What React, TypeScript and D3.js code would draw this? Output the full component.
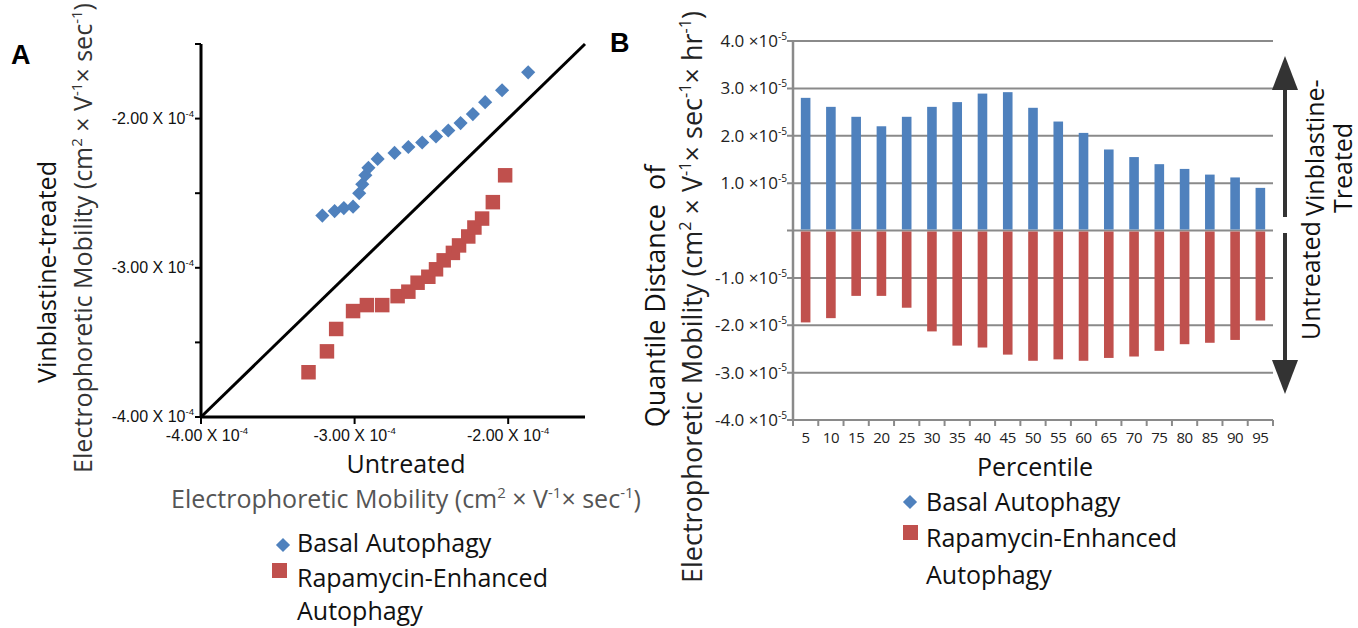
import React, { useRef, useEffect } from "react";
import * as d3 from "d3";

// Panel A: quantile-quantile scatter (units of 1e-4 cm^2 V^-1 s^-1)
const basalUntreated = [-3.21, -3.13, -3.07, -3.01, -2.97, -2.95, -2.93, -2.91, -2.85, -2.74, -2.65, -2.56, -2.47, -2.39, -2.31, -2.23, -2.15, -2.04, -1.87];
const basalVinblastine = [-2.65, -2.62, -2.60, -2.59, -2.50, -2.44, -2.38, -2.33, -2.27, -2.23, -2.19, -2.16, -2.12, -2.08, -2.03, -1.97, -1.89, -1.81, -1.69];
const rapaUntreated = [-3.30, -3.18, -3.12, -3.01, -2.92, -2.82, -2.72, -2.65, -2.59, -2.52, -2.47, -2.42, -2.36, -2.32, -2.26, -2.22, -2.17, -2.10, -2.02];
const rapaVinblastine = [-3.70, -3.56, -3.41, -3.29, -3.25, -3.25, -3.19, -3.16, -3.10, -3.06, -3.01, -2.95, -2.90, -2.85, -2.79, -2.73, -2.67, -2.56, -2.38];
const scatterTicksMajor = [-4, -3, -2];
const scatterTicksY = [-4, -3.5, -3, -2.5, -2, -1.5];

// Panel B: quantile distance per percentile (units of 1e-5)
const percentiles = [5, 10, 15, 20, 25, 30, 35, 40, 45, 50, 55, 60, 65, 70, 75, 80, 85, 90, 95];
const basalDistance = [2.80, 2.61, 2.40, 2.20, 2.40, 2.61, 2.71, 2.89, 2.92, 2.59, 2.30, 2.06, 1.71, 1.55, 1.40, 1.30, 1.18, 1.12, 0.90];
const rapaDistance = [-1.94, -1.85, -1.38, -1.38, -1.63, -2.13, -2.43, -2.47, -2.62, -2.75, -2.72, -2.75, -2.69, -2.66, -2.54, -2.40, -2.37, -2.31, -1.90];
const barTicks = [-4, -3, -2, -1, 0, 1, 2, 3, 4];

const BLUE = "#4F81BD";
const RED = "#C0504D";
const FONT = "'Open Sans', sans-serif";

type Part = { t: string; sup?: boolean };

// append text made of normal + superscript pieces
function rich(sel: d3.Selection<SVGTextElement, unknown, null, undefined>, parts: Part[], size: number) {
  const shift = size * 0.42;
  let up = false;
  parts.forEach((p) => {
    const ts = sel.append("tspan").text(p.t);
    if (p.sup && !up) {
      ts.attr("dy", -shift).attr("font-size", size * 0.6);
      up = true;
    } else if (p.sup) {
      ts.attr("font-size", size * 0.6);
    } else if (up) {
      ts.attr("dy", shift);
      up = false;
    }
  });
  return sel;
}

const mobilityParts: Part[] = [
  { t: "Electrophoretic Mobility (cm" },
  { t: "2", sup: true },
  { t: " × V" },
  { t: "-1", sup: true },
  { t: "× sec" },
  { t: "-1", sup: true },
  { t: ")" },
];

const App: React.FC = () => {
  const svgRef = useRef<SVGSVGElement>(null);

  useEffect(() => {
    if (!svgRef.current) return;
    const svg = d3.select(svgRef.current);
    svg.selectAll("*").remove();

    // ---------------- Panel A ----------------
    const x = d3.scaleLinear().domain([-4, -1.5]).range([201, 585]);
    const y = d3.scaleLinear().domain([-4, -1.5]).range([417, 44]);
    const a = svg.append("g");

    a.append("text").attr("x", 11).attr("y", 64).attr("font-family", "'Liberation Sans', Arial, sans-serif")
      .attr("font-weight", "bold").attr("font-size", 27).text("A");

    // ticks
    a.selectAll(".ytick").data(scatterTicksY).join("line")
      .attr("x1", x(-4) - 6).attr("x2", x(-4)).attr("y1", (d) => y(d)).attr("y2", (d) => y(d))
      .attr("stroke", "#000").attr("stroke-width", 2);
    a.selectAll(".xtick").data(scatterTicksMajor).join("line")
      .attr("x1", (d) => x(d)).attr("x2", (d) => x(d)).attr("y1", y(-4)).attr("y2", y(-4) + 7)
      .attr("stroke", "#000").attr("stroke-width", 2);

    // axes + identity line
    a.append("line").attr("x1", x(-4)).attr("x2", x(-4)).attr("y1", y(-1.5)).attr("y2", y(-4))
      .attr("stroke", "#000").attr("stroke-width", 3);
    a.append("line").attr("x1", x(-4)).attr("x2", x(-1.5)).attr("y1", y(-4)).attr("y2", y(-4))
      .attr("stroke", "#000").attr("stroke-width", 3);
    a.append("line").attr("x1", x(-4)).attr("y1", y(-4)).attr("x2", x(-1.5)).attr("y2", y(-1.5))
      .attr("stroke", "#000").attr("stroke-width", 3);

    const tickFont = "'Liberation Sans Narrow', 'Liberation Sans', Arial, sans-serif";
    const fmtA = (d: number): Part[] => [{ t: `${d.toFixed(2)} X 10` }, { t: "-4", sup: true }];
    scatterTicksMajor.forEach((d) => {
      const ty = a.append("text").attr("x", x(-4) - 7).attr("y", y(d) + 5).attr("text-anchor", "end")
        .attr("font-family", tickFont).attr("font-size", 16).attr("fill", "#111");
      rich(ty, fmtA(d), 16);
      const tx = a.append("text").attr("x", x(d) + (d === -4 ? 6 : 0)).attr("y", y(-4) + 24).attr("text-anchor", "middle")
        .attr("font-family", tickFont).attr("font-size", 16).attr("fill", "#111");
      rich(tx, fmtA(d), 16);
    });

    // points
    const sq = d3.symbol().type(d3.symbolSquare);
    a.selectAll(".basal").data(basalUntreated).join("path")
      .attr("d", sq.size(100)())
      .attr("transform", (d, i) => `translate(${x(d)},${y(basalVinblastine[i])}) rotate(45)`)
      .attr("fill", BLUE);
    a.selectAll(".rapa").data(rapaUntreated).join("path")
      .attr("d", sq.size(210)())
      .attr("transform", (d, i) => `translate(${x(d)},${y(rapaVinblastine[i])})`)
      .attr("fill", RED);

    // axis titles
    a.append("text").attr("x", 406).attr("y", 473).attr("text-anchor", "middle")
      .attr("font-family", FONT).attr("font-size", 25).attr("fill", "#111").text("Untreated");
    rich(a.append("text").attr("x", 406).attr("y", 508).attr("text-anchor", "middle")
      .attr("font-family", FONT).attr("font-size", 25).attr("fill", "#555"), mobilityParts, 25);
    a.append("text").attr("transform", "translate(56,272) rotate(-90)").attr("text-anchor", "middle")
      .attr("font-family", FONT).attr("font-size", 25).attr("fill", "#111").text("Vinblastine-treated");
    rich(a.append("text").attr("transform", "translate(92,238) rotate(-90)").attr("text-anchor", "middle")
      .attr("font-family", FONT).attr("font-size", 25).attr("fill", "#333"), mobilityParts, 25);

    // legend A
    a.append("path").attr("d", sq.size(100)()).attr("transform", "translate(283,545) rotate(45)").attr("fill", BLUE);
    a.append("rect").attr("x", 272).attr("y", 563).attr("width", 15).attr("height", 15).attr("fill", RED);
    [["Basal Autophagy", 552], ["Rapamycin-Enhanced", 587], ["Autophagy", 620]].forEach(([t, yy]) => {
      a.append("text").attr("x", 297).attr("y", yy as number).attr("font-family", FONT)
        .attr("font-size", 25).attr("fill", "#111").text(t as string);
    });

    // ---------------- Panel B ----------------
    const b = svg.append("g");
    const xb = d3.scaleBand<number>().domain(percentiles).range([793, 1273]).paddingInner(0.62).paddingOuter(0.31);
    const yb = d3.scaleLinear().domain([-4, 4]).range([420, 41]);
    const step = xb.step();

    b.append("text").attr("x", 610).attr("y", 52).attr("font-family", "'Liberation Sans', Arial, sans-serif")
      .attr("font-weight", "bold").attr("font-size", 27).text("B");

    b.selectAll(".grid").data(barTicks).join("line")
      .attr("x1", 787).attr("x2", 1273).attr("y1", (d) => yb(d)).attr("y2", (d) => yb(d))
      .attr("stroke", "#8a8a8a").attr("stroke-width", 2);

    b.selectAll(".pos").data(basalDistance).join("rect")
      .attr("x", (_, i) => xb(percentiles[i])!).attr("width", xb.bandwidth())
      .attr("y", (d) => yb(d)).attr("height", (d) => yb(0) - yb(d) - 1).attr("fill", BLUE);
    b.selectAll(".neg").data(rapaDistance).join("rect")
      .attr("x", (_, i) => xb(percentiles[i])!).attr("width", xb.bandwidth())
      .attr("y", yb(0) + 1).attr("height", (d) => yb(d) - yb(0) - 1).attr("fill", RED);

    b.append("line").attr("x1", 793).attr("x2", 793).attr("y1", yb(4)).attr("y2", yb(-4))
      .attr("stroke", "#8a8a8a").attr("stroke-width", 2.5);
    b.selectAll(".xt").data(d3.range(percentiles.length + 1)).join("line")
      .attr("x1", (i) => 793 + i * step).attr("x2", (i) => 793 + i * step)
      .attr("y1", yb(-4)).attr("y2", yb(-4) + 6).attr("stroke", "#8a8a8a").attr("stroke-width", 2);

    barTicks.filter((d) => d !== 0).forEach((d) => {
      rich(b.append("text").attr("x", 787).attr("y", yb(d) + 6).attr("text-anchor", "end")
        .attr("font-family", FONT).attr("font-size", 17).attr("fill", "#222"),
        [{ t: `${d.toFixed(1)} ×10` }, { t: "-5", sup: true }], 17);
    });
    b.selectAll(".xl").data(percentiles).join("text")
      .attr("x", (d) => xb(d)! + xb.bandwidth() / 2).attr("y", 443).attr("text-anchor", "middle")
      .attr("font-family", FONT).attr("font-size", 15).attr("letter-spacing", -0.4)
      .attr("fill", "#222").text((d) => d);

    b.append("text").attr("x", 1035).attr("y", 476).attr("text-anchor", "middle")
      .attr("font-family", FONT).attr("font-size", 25).attr("fill", "#111").text("Percentile");

    b.append("text").attr("transform", "translate(665,296) rotate(-90)").attr("text-anchor", "middle")
      .attr("font-family", FONT).attr("font-size", 27).attr("fill", "#111").text("Quantile Distance  of")
      .style("white-space", "pre");
    rich(b.append("text").attr("transform", "translate(702,297) rotate(-90)").attr("text-anchor", "middle")
      .attr("font-family", FONT).attr("font-size", 27).attr("fill", "#222"), [
      { t: "Electrophoretic Mobility (cm" },
      { t: "2", sup: true },
      { t: " × V" },
      { t: "-1", sup: true },
      { t: "× sec" },
      { t: "-1", sup: true },
      { t: "× hr" },
      { t: "-1", sup: true },
      { t: ")" },
    ], 27);

    // direction arrows
    const ax = 1285;
    b.append("line").attr("x1", ax).attr("x2", ax).attr("y1", 88).attr("y2", 217).attr("stroke", "#333").attr("stroke-width", 4);
    b.append("path").attr("d", `M${ax},56 L${ax - 13},90 L${ax + 13},90 Z`).attr("fill", "#333");
    b.append("line").attr("x1", ax).attr("x2", ax).attr("y1", 233).attr("y2", 362).attr("stroke", "#333").attr("stroke-width", 4);
    b.append("path").attr("d", `M${ax},394 L${ax - 13},360 L${ax + 13},360 Z`).attr("fill", "#333");

    b.append("text").attr("transform", "translate(1324,216) rotate(-90)").attr("font-family", FONT)
      .attr("font-size", 25).attr("fill", "#111").text("Vinblastine-");
    b.append("text").attr("transform", "translate(1352,213) rotate(-90)").attr("font-family", FONT)
      .attr("font-size", 25).attr("fill", "#111").text("Treated");
    b.append("text").attr("transform", "translate(1320,340) rotate(-90)").attr("font-family", FONT)
      .attr("font-size", 25).attr("fill", "#111").text("Untreated");

    // legend B
    b.append("path").attr("d", sq.size(100)()).attr("transform", "translate(910,502) rotate(45)").attr("fill", BLUE);
    b.append("rect").attr("x", 903).attr("y", 525).attr("width", 15).attr("height", 15).attr("fill", RED);
    [["Basal Autophagy", 511], ["Rapamycin-Enhanced", 547], ["Autophagy", 584]].forEach(([t, yy]) => {
      b.append("text").attr("x", 926).attr("y", yy as number).attr("font-family", FONT)
        .attr("font-size", 25).attr("fill", "#111").text(t as string);
    });
  }, []);

  return (
    <svg
      ref={svgRef}
      width={1358}
      height={628}
      style={{ position: "absolute", left: 0, top: 0, background: "#fff", display: "block" }}
    />
  );
};

export default App;
